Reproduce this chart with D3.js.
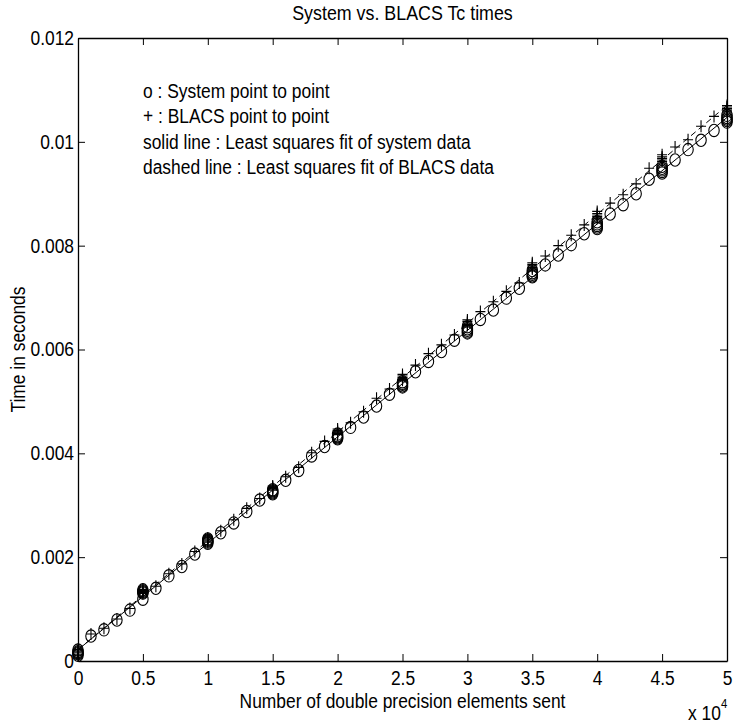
<!DOCTYPE html>
<html>
<head>
<meta charset="utf-8">
<script src="https://cdn.jsdelivr.net/npm/d3@7"></script>
<style>
  html, body { margin: 0; padding: 0; background: #fff; }
  svg { display: block; font-family: "Liberation Sans", Arial, Helvetica, sans-serif; }
</style>
</head>
<body>
<svg id="chart" width="733" height="727"></svg>
<script>
// ---- data ----
const msgSizes = d3.range(0, 50001, 1000);
// system point-to-point times (s); multiples of 5000 hold repeated runs
const sysTimes = [
  [0.00011, 0.00014, 0.00016, 0.00018, 0.00021],
  0.00048, 0.00060, 0.00079, 0.00098,
  [0.00119, 0.00131, 0.00133, 0.00135, 0.00137],
  0.00140, 0.00164, 0.00182, 0.00206,
  [0.00227, 0.00229, 0.00231, 0.00233, 0.00235],
  0.00247, 0.00266, 0.00288, 0.00310,
  [0.00322, 0.00324, 0.00326, 0.00328, 0.00330],
  0.00348, 0.00367, 0.00395, 0.00413,
  [0.00428, 0.00430, 0.00432, 0.00434, 0.00437],
  0.00450, 0.00470, 0.00491, 0.00514,
  [0.00528, 0.00530, 0.00533, 0.00535, 0.00538],
  0.00557, 0.00577, 0.00596, 0.00618,
  [0.00632, 0.00634, 0.00637, 0.00640, 0.00644],
  0.00658, 0.00676, 0.00699, 0.00718,
  [0.00740, 0.00742, 0.00745, 0.00748, 0.00752],
  0.00763, 0.00782, 0.00802, 0.00823,
  [0.00833, 0.00836, 0.00839, 0.00842, 0.00846],
  0.00861, 0.00879, 0.00900, 0.00928,
  [0.00940, 0.00943, 0.00946, 0.00949, 0.00953],
  0.00965, 0.00985, 0.01003, 0.01022,
  [0.01038, 0.01041, 0.01044, 0.01047, 0.01051]
];
// BLACS point-to-point times (s)
const blacsTimes = [
  [0.00010, 0.00013, 0.00016, 0.00019, 0.00022],
  0.00052, 0.00063, 0.00081, 0.00101,
  [0.00130, 0.00132, 0.00134, 0.00136, 0.00138],
  0.00144, 0.00168, 0.00187, 0.00211,
  [0.00229, 0.00231, 0.00233, 0.00235, 0.00237],
  0.00251, 0.00272, 0.00294, 0.00313,
  [0.00329, 0.00331, 0.00333, 0.00335, 0.00337],
  0.00355, 0.00373, 0.00401, 0.00423,
  [0.00436, 0.00438, 0.00441, 0.00444, 0.00447],
  0.00459, 0.00480, 0.00506, 0.00524,
  [0.00541, 0.00543, 0.00546, 0.00549, 0.00552],
  0.00570, 0.00592, 0.00609, 0.00628,
  [0.00646, 0.00648, 0.00651, 0.00654, 0.00657],
  0.00673, 0.00692, 0.00712, 0.00728,
  [0.00755, 0.00758, 0.00761, 0.00764, 0.00767],
  0.00780, 0.00800, 0.00820, 0.00840,
  [0.00853, 0.00856, 0.00859, 0.00862, 0.00866],
  0.00882, 0.00898, 0.00919, 0.00949,
  [0.00962, 0.00965, 0.00968, 0.00971, 0.00975],
  0.00990, 0.01004, 0.01030, 0.01049,
  [0.01058, 0.01061, 0.01064, 0.01067, 0.01070]
];
const xTickValues = [0, 5000, 10000, 15000, 20000, 25000, 30000, 35000, 40000, 45000, 50000];
const xTickLabels = ["0", "0.5", "1", "1.5", "2", "2.5", "3", "3.5", "4", "4.5", "5"];
const yTickValues = [0, 0.002, 0.004, 0.006, 0.008, 0.010, 0.012];
const yTickLabels = ["0", "0.002", "0.004", "0.006", "0.008", "0.01", "0.012"];
const legendLines = [
  "o : System point to point",
  "+ : BLACS point to point",
  "solid line : Least squares fit of system data",
  "dashed line : Least squares fit of BLACS data"
];
const titleText = "System vs. BLACS Tc times";
const xLabelText = "Number of double precision elements sent";
const yLabelText = "Time in seconds";

// ---- layout ----
const SX = 0.87;           // horizontal squeeze of the narrow font
const FS = 20;
const svg = d3.select("#chart");
const L = 78, R = 727, T = 38, B = 661;
const x = d3.scaleLinear().domain([0, 50000]).range([L, R]);
const y = d3.scaleLinear().domain([0, 0.012]).range([B, T]);

function flatten(times) {
  const out = [];
  times.forEach((t, i) => {
    (Array.isArray(t) ? t : [t]).forEach(v => out.push({ x: msgSizes[i], y: v }));
  });
  return out;
}
const sysPts = flatten(sysTimes);
const blacsPts = flatten(blacsTimes);

function lsq(pts) {
  const mx = d3.mean(pts, d => d.x), my = d3.mean(pts, d => d.y);
  const sxy = d3.sum(pts, d => (d.x - mx) * (d.y - my));
  const sxx = d3.sum(pts, d => (d.x - mx) * (d.x - mx));
  const b = sxy / sxx, a = my - b * mx;
  return [{ x: 0, y: a }, { x: 50000, y: a + b * 50000 }];
}

function sqText(g, str, px, py, opts = {}) {
  const gg = g.append("g").attr("transform", `translate(${px},${py})${opts.rotate ? ` rotate(${opts.rotate})` : ""}`);
  gg.append("text")
    .attr("transform", `scale(${SX},1)`)
    .attr("text-anchor", opts.anchor || "start")
    .attr("font-size", opts.size || FS)
    .attr("fill", "#000")
    .text(str);
  return gg;
}

// ---- axes ----
const axB = d3.axisBottom(x).tickValues(xTickValues).tickSizeInner(-7).tickSizeOuter(0).tickPadding(10)
  .tickFormat((d, i) => xTickLabels[i]);
const axT = d3.axisTop(x).tickValues(xTickValues).tickSizeInner(-7).tickSizeOuter(0).tickFormat("");
const axL = d3.axisLeft(y).tickValues(yTickValues).tickSizeInner(-7).tickSizeOuter(0).tickPadding(4)
  .tickFormat((d, i) => yTickLabels[i]);
const axR = d3.axisRight(y).tickValues(yTickValues).tickSizeInner(-7).tickSizeOuter(0).tickFormat("");

function styleAxis(g) {
  g.selectAll("path.domain").attr("stroke", "#000").attr("stroke-width", 1.3);
  g.selectAll(".tick line").attr("stroke", "#000").attr("stroke-width", 1);
  g.selectAll(".tick text").attr("fill", "#000")
    .style("font-family", '"Liberation Sans", Arial, sans-serif').style("font-size", FS + "px");
}
const gB = svg.append("g").attr("transform", `translate(0,${B})`).call(axB).call(styleAxis);
gB.selectAll(".tick text").attr("transform", `scale(${SX},1)`);
const gL = svg.append("g").attr("transform", `translate(${L},0)`).call(axL).call(styleAxis);
gL.selectAll(".tick text").attr("x", -4 / SX).attr("transform", `scale(${SX},1)`);
svg.append("g").attr("transform", `translate(0,${T})`).call(axT).call(styleAxis);
svg.append("g").attr("transform", `translate(${R},0)`).call(axR).call(styleAxis);

// ---- fit lines ----
const line = d3.line().x(d => x(d.x)).y(d => y(d.y));
svg.append("path").datum(lsq(sysPts)).attr("d", line)
  .attr("fill", "none").attr("stroke", "#000").attr("stroke-width", 1);
svg.append("path").datum(lsq(blacsPts)).attr("d", line)
  .attr("fill", "none").attr("stroke", "#000").attr("stroke-width", 1).attr("stroke-dasharray", "6,4");

// ---- markers ----
svg.append("g").selectAll("ellipse").data(sysPts).join("ellipse")
  .attr("cx", d => x(d.x)).attr("cy", d => y(d.y))
  .attr("rx", 5.2).attr("ry", 6.2)
  .attr("fill", "none").attr("stroke", "#000").attr("stroke-width", 1.1);
svg.append("g").selectAll("path").data(blacsPts).join("path")
  .attr("d", d => {
    const cx = x(d.x), cy = y(d.y);
    return `M${cx - 5},${cy}H${cx + 5}M${cx},${cy - 6}V${cy + 6}`;
  })
  .attr("fill", "none").attr("stroke", "#000").attr("stroke-width", 1.1);

// ---- text ----
sqText(svg, titleText, (L + R) / 2, 20, { anchor: "middle", size: 20.5 });
sqText(svg, xLabelText, (L + R) / 2, 708, { anchor: "middle" });
sqText(svg, yLabelText, 25, (T + B) / 2, { anchor: "middle", rotate: -90 });
const legendG = svg.append("g");
legendLines.forEach((s, i) => sqText(legendG, s, 143, 98 + i * 25.4));
// x 10^4 multiplier
const mult = svg.append("g").attr("transform", `translate(688,720)`);
const mt = mult.append("text").attr("transform", `scale(${SX},1)`).attr("font-size", FS).attr("fill", "#000");
mt.append("tspan").text("x 10");
mt.append("tspan").attr("font-size", 13).attr("dy", -12).text("4");
</script>
</body>
</html>
